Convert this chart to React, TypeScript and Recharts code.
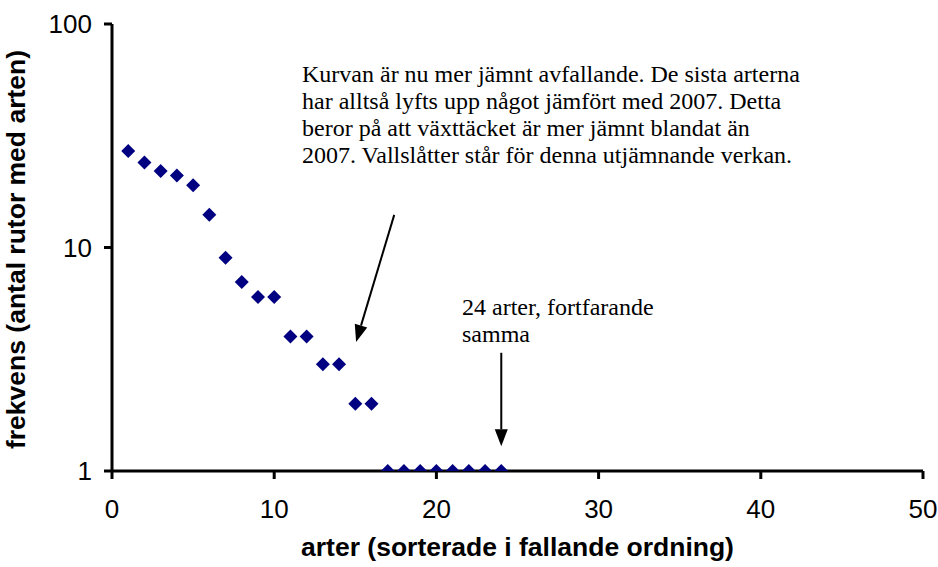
import { FC } from 'react';
import {
  ScatterChart,
  Scatter,
  XAxis,
  YAxis,
  ReferenceLine,
  Label,
} from 'recharts';

// rank of each species (x) and in how many squares it was found (y)
const speciesRank = [
  1, 2, 3, 4, 5, 6, 7, 8, 9, 10, 11, 12, 13, 14, 15, 16, 17, 18, 19, 20, 21,
  22, 23, 24,
];
const frequency = [
  27, 24, 22, 21, 19, 14, 9, 7, 6, 6, 4, 4, 3, 3, 2, 2, 1, 1, 1, 1, 1, 1, 1, 1,
];

const xTicks = [0, 10, 20, 30, 40, 50];
const yTicks = [1, 10, 100];

const xTitle = 'arter (sorterade i fallande ordning)';
const yTitle = 'frekvens (antal rutor med arten)';

const noteMain = [
  'Kurvan är nu mer jämnt avfallande. De sista arterna',
  'har alltså lyfts upp något jämfört med 2007. Detta',
  'beror på att växttäcket är mer jämnt blandat än',
  '2007. Vallslåtter står för denna utjämnande verkan.',
];
const noteSame = ['24 arter, fortfarande', 'samma'];

// arrows, in data units (from -> to)
const arrowMain = [
  { x: 17.4, y: 14 },
  { x: 15.05, y: 3.78 },
];
const arrowSame = [
  { x: 24, y: 3.38 },
  { x: 24, y: 1.29 },
];

const data = speciesRank.map((rank, i) => ({ rank, freq: frequency[i] }));

const Diamond = (props: any) => {
  const { cx, cy } = props;
  const r = 7;
  return (
    <path
      d={`M${cx},${cy - r}L${cx + r},${cy}L${cx},${cy + r}L${cx - r},${cy}Z`}
      fill='#000080'
    />
  );
};

const Arrow = (props: any) => {
  const { x1, y1, x2, y2 } = props;
  const len = Math.hypot(x2 - x1, y2 - y1);
  const ux = (x2 - x1) / len;
  const uy = (y2 - y1) / len;
  const head = 17;
  const half = 6.5;
  const bx = x2 - ux * head;
  const by = y2 - uy * head;
  return (
    <g>
      <line x1={x1} y1={y1} x2={bx} y2={by} stroke='#000' strokeWidth={2} />
      <polygon
        points={`${x2},${y2} ${bx - uy * half},${by + ux * half} ${bx + uy * half},${by - ux * half}`}
        fill='#000'
      />
    </g>
  );
};

const XTitle = (props: any) => {
  const vb = props.viewBox;
  return (
    <text
      x={vb.x + vb.width / 2}
      y={vb.y + 85}
      textAnchor='middle'
      fontFamily='Liberation Sans, Arial, sans-serif'
      fontWeight='bold'
      fontSize={26.5}
      fill='#000'>
      {xTitle}
    </text>
  );
};

const YTitle = (props: any) => {
  const vb = props.viewBox;
  const cx = 25;
  const cy = vb.y + vb.height / 2 + 2;
  return (
    <text
      x={cx}
      y={cy}
      transform={`rotate(-90, ${cx}, ${cy})`}
      textAnchor='middle'
      fontFamily='Liberation Sans, Arial, sans-serif'
      fontWeight='bold'
      fontSize={26.5}
      fill='#000'>
      {yTitle}
    </text>
  );
};

const noteStyle = {
  position: 'absolute' as const,
  fontFamily: '"Liberation Serif", "Times New Roman", serif',
  fontSize: 24,
  lineHeight: '27px',
  whiteSpace: 'pre' as const,
  color: '#000',
};

const tickStyle = {
  fontFamily: 'Liberation Sans, Arial, sans-serif',
  fontSize: 26,
  fill: '#000',
};

const App: FC = () => {
  return (
    <div
      style={{
        position: 'absolute',
        left: 0,
        top: 0,
        width: 938,
        height: 567,
        background: '#fff',
      }}>
      <ScatterChart
        width={938}
        height={567}
        margin={{ top: 24, right: 15, bottom: 0, left: 0 }}>
        <XAxis
          type='number'
          dataKey='rank'
          domain={[0, 50]}
          ticks={xTicks}
          height={96}
          tickSize={8}
          tickMargin={21}
          axisLine={{ stroke: '#000', strokeWidth: 3 }}
          tickLine={{ stroke: '#000', strokeWidth: 3 }}
          tick={tickStyle}>
          <Label content={XTitle} />
        </XAxis>
        <YAxis
          type='number'
          dataKey='freq'
          scale='log'
          domain={[1, 100]}
          ticks={yTicks}
          allowDataOverflow
          width={112}
          tickSize={8}
          tickMargin={12}
          axisLine={{ stroke: '#000', strokeWidth: 3 }}
          tickLine={{ stroke: '#000', strokeWidth: 3 }}
          tick={tickStyle}>
          <Label content={YTitle} />
        </YAxis>
        <Scatter
          data={data}
          shape={(p: any) => <Diamond {...p} />}
          isAnimationActive={false}
        />
        <ReferenceLine
          segment={arrowMain}
          ifOverflow='visible'
          shape={(p: any) => <Arrow {...p} />}
        />
        <ReferenceLine
          segment={arrowSame}
          ifOverflow='visible'
          shape={(p: any) => <Arrow {...p} />}
        />
      </ScatterChart>
      <div style={{ ...noteStyle, left: 302, top: 61 }}>
        {noteMain.join('\n')}
      </div>
      <div style={{ ...noteStyle, left: 462, top: 294 }}>
        {noteSame.join('\n')}
      </div>
    </div>
  );
};

export default App;
